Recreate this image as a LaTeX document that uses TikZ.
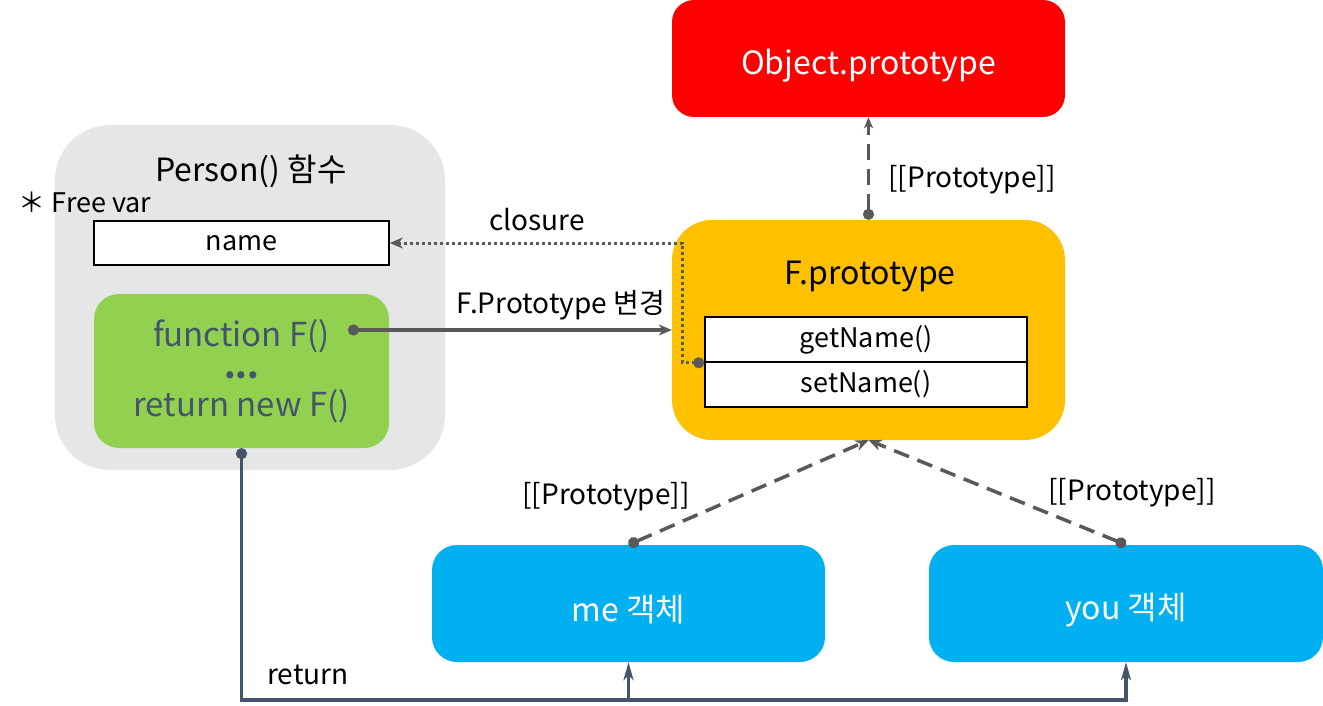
\documentclass[tikz,border=0pt]{standalone}
\usepackage{fontspec}
\setmainfont{Noto Sans CJK KR}
\usetikzlibrary{arrows.meta}
\definecolor{objRed}{HTML}{FF0000}
\definecolor{personGray}{HTML}{E6E6E6}
\definecolor{funcGreen}{HTML}{92D050}
\definecolor{protoYellow}{HTML}{FFC000}
\definecolor{instBlue}{HTML}{00B0F0}
\definecolor{slateText}{HTML}{44546A}
\definecolor{linkGray}{HTML}{595959}

\begin{document}
\begin{tikzpicture}[
    x=1pt, y=-1pt,
    font=\fontsize{28}{32}\selectfont,
    box/.style={rectangle, minimum width=393pt, minimum height=117pt, rounded corners=22pt},
    boxtext/.style={text=white, font=\fontsize{32}{38}\selectfont},
    member/.style={rectangle, draw, line width=1.6pt, fill=white, minimum width=322pt, minimum height=45pt, font=\fontsize{27}{32}\selectfont},
    link/.style={line width=3.5pt, draw=linkGray, {Circle[length=11pt]}-{Stealth[length=13pt, width=11pt, inset=4pt]}},
    protolink/.style={link, dash pattern=on 16pt off 9pt},
    retline/.style={line width=3.5pt, draw=slateText}
]
\useasboundingbox (0,0) rectangle (1323,706);

% Person() and its closure
\node[rectangle, fill=personGray, rounded corners=55pt, minimum width=390pt, minimum height=345pt] (person) at (250,297.5) {};
\node[font=\fontsize{32}{38}\selectfont] (persontitle) at (251,171) {Person() 함수};
\node[font=\fontsize{27}{32}\selectfont] (freevar) at (85,202) {＊ Free var};
\node[member, minimum width=295pt, minimum height=44pt] (name) at (241.5,243) {name};
\node[rectangle, fill=funcGreen, rounded corners=25pt, minimum width=295pt, minimum height=154pt, align=center, text=slateText, font=\fontsize{33}{35}\selectfont] (func) at (241.5,371) {function F()\\[-3pt]\textbf{...}\\[3pt]return new F()};
\coordinate (fdot) at (348,330);

% prototypes
\node[box, fill=objRed] (objproto) at (868.5,58.5) {};
\node[boxtext] (objtext) at (868.5,66) {Object.prototype};
\node[box, fill=protoYellow, minimum height=220pt, rounded corners=40pt] (fproto) at (868.5,330) {};
\node[text=black, font=\fontsize{32}{38}\selectfont] (ftitle) at (870,277) {F.prototype};
\node[member] (getname) at (866,339.5) {getName()};
\node[member] (setname) at (866,384.5) {setName()};

% instances
\node[box, fill=instBlue, rounded corners=25pt] (me) at (628.5,603.5) {};
\node[boxtext] (metext) at (628.5,610) {me 객체};
\node[box, fill=instBlue, minimum width=394pt, rounded corners=25pt] (you) at (1126,603.5) {};
\node[boxtext] (youtext) at (1126,610) {you 객체};
\coordinate (retcorner) at (241.5,700);

% connectors
\draw[link] (fdot) -- (fdot -| fproto.west);
\node (changelbl) at (561,305) {F.Prototype 변경};
\draw[link, line width=3pt, dash pattern=on 3pt off 3pt] (getname.south west) -- ++(-22,0) |- (name.east);
\node (closurelbl) at (537,220) {closure};
\draw[protolink, line width=3pt, {Circle[length=11pt]}-{Stealth[length=11pt, width=9pt, inset=3pt]}] (fproto.north) -- (objproto.south);
\node (objlbl) at (972,180) {[[Prototype]]};
\draw[protolink] (me.north) -- (fproto.south);
\node (melbl) at (606,497) {[[Prototype]]};
\draw[protolink] (you.north) -- (fproto.south);
\node (youlbl) at (1132,493) {[[Prototype]]};

\draw[retline, {Circle[length=11pt]}-{Stealth[length=18pt, width=10pt, inset=5pt]}] (func.south) |- (retcorner -| you.south) -- (you.south);
\draw[retline, -{Stealth[length=18pt, width=10pt, inset=5pt]}] (retcorner -| me.south) -- (me.south);
\node (retlbl) at (308,675) {return};
\end{tikzpicture}
\end{document}
